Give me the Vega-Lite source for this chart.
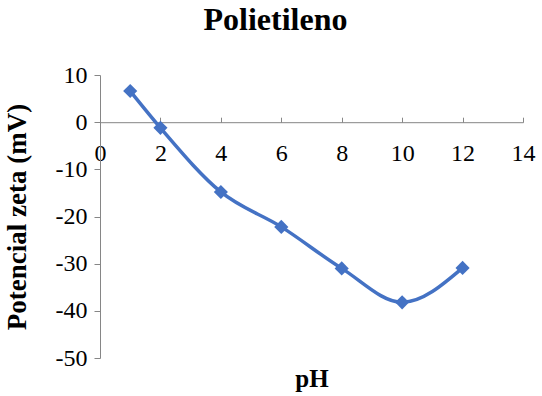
{
  "$schema": "https://vega.github.io/schema/vega-lite/v6.json",
  "width": 423,
  "height": 283,
  "autosize": {"type": "none"},
  "padding": {"left": 100, "top": 75, "right": 19, "bottom": 38},
  "background": "white",
  "config": {"view": {"stroke": null}, "font": "'Liberation Serif', 'Times New Roman', serif"},
  "title": {"text": "Polietileno", "font": "'Liberation Serif', 'Times New Roman', serif", "fontSize": 32, "fontWeight": "bold", "color": "black", "anchor": "middle", "dx": -36, "offset": 1, "baseline": "alphabetic"},
  "data": {"values": [
    {"pH": 1, "zeta": 6.6},
    {"pH": 2, "zeta": -1.2},
    {"pH": 4, "zeta": -14.8},
    {"pH": 6, "zeta": -22.2},
    {"pH": 8, "zeta": -31.0},
    {"pH": 10, "zeta": -38.2},
    {"pH": 12, "zeta": -30.9}
  ]},
  "encoding": {
    "x": {"field": "pH", "type": "quantitative", "scale": {"domain": [0, 14], "nice": false, "zero": false},
      "axis": {"values": [0, 2, 4, 6, 8, 10, 12, 14], "grid": false, "offset": -235.8, "domainColor": "#868686", "tickColor": "#868686", "tickSize": -5, "labelPadding": 24, "labelFont": "'Liberation Serif', 'Times New Roman', serif", "labelFontSize": 24, "labelColor": "black", "labelFlush": false, "labelOverlap": false,
        "title": "pH", "titleFont": "'Liberation Serif', 'Times New Roman', serif", "titleFontSize": 25, "titleFontWeight": "bold", "titleColor": "black", "titleY": 264, "titleBaseline": "alphabetic"}},
    "y": {"field": "zeta", "type": "quantitative", "scale": {"domain": [-50, 10], "nice": false, "zero": false},
      "axis": {"values": [-50, -40, -30, -20, -10, 0, 10], "grid": false, "domainColor": "#868686", "tickColor": "#868686", "tickSize": 6, "labelPadding": 7, "labelFont": "'Liberation Serif', 'Times New Roman', serif", "labelFontSize": 24, "labelColor": "black", "labelFlush": false, "labelOverlap": false,
        "labelExpr": "datum.value < 0 ? '-' + abs(datum.value) : '' + datum.value",
        "title": "Potencial zeta (mV)", "titleFont": "'Liberation Serif', 'Times New Roman', serif", "titleFontSize": 27, "titleFontWeight": "bold", "titleColor": "black", "titlePadding": 24}}
  },
  "layer": [
    {"mark": {"type": "line", "interpolate": "monotone", "color": "#4472C4", "strokeWidth": 3.5}},
    {"mark": {"type": "point", "shape": "diamond", "filled": true, "size": 200, "color": "#4472C4", "opacity": 1}}
  ]
}
